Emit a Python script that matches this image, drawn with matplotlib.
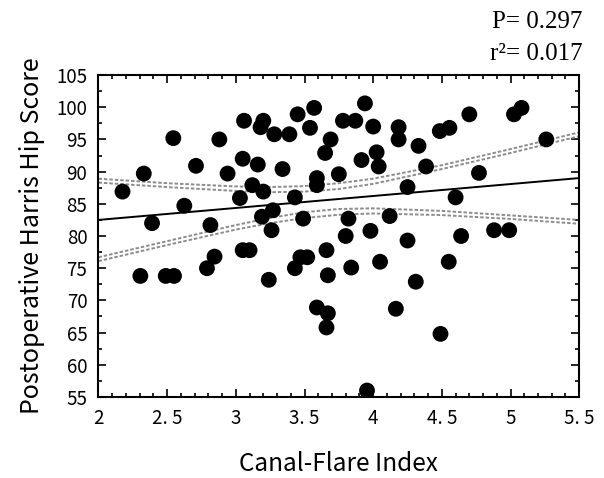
import matplotlib
matplotlib.use("Agg")
import matplotlib.pyplot as plt
from matplotlib.ticker import MultipleLocator

# Canal-Flare Index vs postoperative Harris Hip Score
cfi = [2.175, 2.33, 2.39, 2.545, 2.625, 2.71, 2.815, 2.88, 2.94, 3.03,
       3.05, 3.06, 3.12, 3.16, 3.18, 3.20, 3.20, 3.19, 3.27, 3.26,
       3.28, 3.34, 3.39, 3.43, 3.45, 3.49, 3.54, 3.57, 3.59, 3.59,
       3.65, 3.69, 3.75, 3.78, 3.82, 3.80, 3.87, 3.94, 4.00, 4.025,
       3.915, 4.04, 4.185, 4.185, 4.33, 4.385, 4.25, 4.485, 4.555, 4.70,
       4.77, 4.60, 5.025, 5.08, 5.26, 3.98, 4.12, 4.25, 4.64, 4.88,
       4.99, 3.84, 4.05, 4.31, 4.55, 4.165, 4.49, 3.955, 2.305, 2.49,
       2.55, 2.79, 2.845, 3.05, 3.10, 3.24, 3.43, 3.47, 3.52, 3.66,
       3.67, 3.59, 3.67, 3.66]
hhs = [86.9, 89.7, 82.0, 95.2, 84.7, 90.9, 81.7, 95.0, 89.7, 85.9,
       92.0, 97.9, 87.9, 91.1, 96.9, 97.9, 86.9, 83.0, 84.0, 80.9,
       95.8, 90.4, 95.8, 86.0, 98.9, 82.7, 96.8, 99.9, 89.0, 87.9,
       92.9, 95.0, 89.6, 97.9, 82.7, 80.0, 97.9, 100.6, 97.0, 93.0,
       91.8, 90.8, 96.9, 95.0, 94.0, 90.8, 87.6, 96.3, 96.8, 98.9,
       89.8, 86.0, 98.9, 99.9, 95.0, 80.8, 83.1, 79.3, 80.0, 80.9,
       80.9, 75.1, 76.0, 72.9, 76.0, 68.7, 64.8, 56.0, 73.8, 73.8,
       73.8, 75.0, 76.8, 77.8, 77.8, 73.2, 75.0, 76.7, 76.7, 77.8,
       73.9, 68.9, 68.0, 65.8]

# regression line
fit_x = [2.0, 5.5]
fit_y = [82.5, 89.0]

# confidence band curves, two strokes per side
band_x = [2.0, 2.5, 3.0, 3.25, 3.5, 3.75, 4.0, 4.5, 5.0, 5.5]
upper_a = [88.9, 88.2, 87.7, 87.6, 87.75, 88.2, 88.9, 91.0, 93.5, 96.1]
upper_b = [88.3, 87.6, 87.0, 86.8, 86.9, 87.3, 88.1, 90.4, 92.9, 95.5]
lower_a = [76.7, 79.2, 81.7, 82.8, 83.7, 84.2, 84.3, 83.9, 83.2, 82.5]
lower_b = [76.1, 78.6, 81.0, 82.0, 82.8, 83.3, 83.5, 83.25, 82.65, 81.9]

xticks = [2, 2.5, 3, 3.5, 4, 4.5, 5, 5.5]
xtick_labels = ["2", "2. 5", "3", "3. 5", "4", "4. 5", "5", "5. 5"]
yticks = list(range(55, 106, 5))

plt.rcParams['font.family'] = ['Noto Sans CJK JP', 'DejaVu Sans']

fig = plt.figure(figsize=(6.04, 4.78), dpi=100)
ax = fig.add_axes([0.163, 0.1695, 0.796, 0.6735])

for yy in (upper_a, upper_b, lower_a, lower_b):
    ax.plot(band_x, yy, color='#8c8c8c', lw=1.4, dashes=(1.8, 1.0), zorder=2)
ax.plot(fit_x, fit_y, color='black', lw=1.4, zorder=3)
ax.scatter(cfi, hhs, s=130, color='black', edgecolors='none', zorder=4)

ax.set_xlim(2, 5.5)
ax.set_ylim(55, 105)
ax.set_xticks(xticks)
ax.set_xticklabels(xtick_labels)
ax.set_yticks(yticks)
ax.xaxis.set_minor_locator(MultipleLocator(0.1))
ax.yaxis.set_minor_locator(MultipleLocator(2.5))
ax.tick_params(which='both', direction='in', top=True, right=True, width=1.2)
ax.tick_params(which='major', length=6, labelsize=13.5, pad=8)
ax.tick_params(which='minor', length=3)
for sp in ax.spines.values():
    sp.set_linewidth(1.5)

ax.set_xlabel("Canal-Flare Index", fontsize=17.5, labelpad=16)
ax.set_ylabel("Postoperative Harris Hip Score", fontsize=18, labelpad=8)

fig.text(0.965, 0.978, "P= 0.297", ha='right', va='top', fontsize=18,
         family='Liberation Serif')
fig.text(0.965, 0.911, "r\u00b2= 0.017", ha='right', va='top', fontsize=18,
         family='Liberation Serif')

fig.savefig("out.png", dpi=100)
